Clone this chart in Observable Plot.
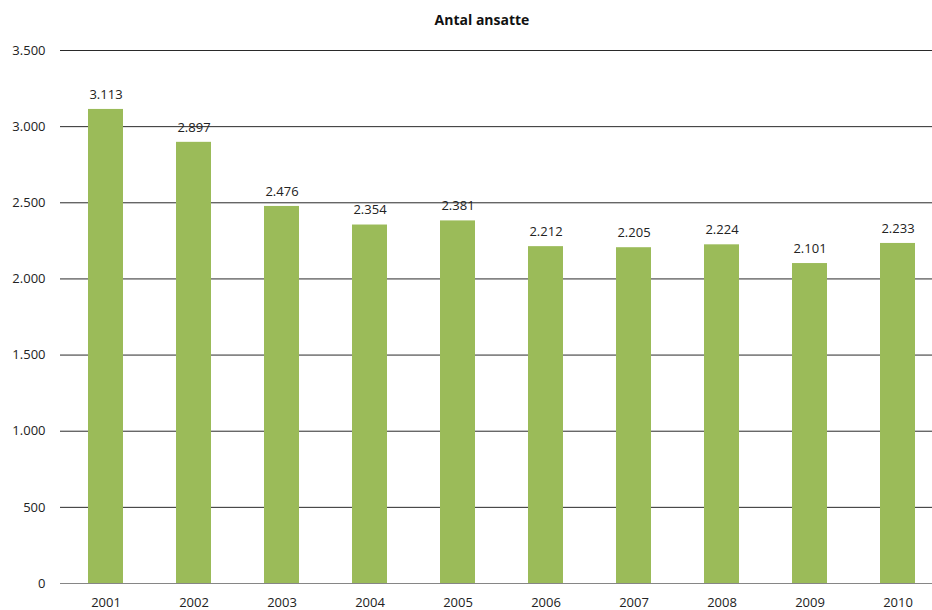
<!DOCTYPE html>
<html>
<head>
<meta charset="utf-8">
<script src="https://cdn.jsdelivr.net/npm/d3@7"></script>
<script src="https://cdn.jsdelivr.net/npm/@observablehq/plot@0.6"></script>
<style>
  body { margin: 0; background: #fff; font-family: "Open Sans", sans-serif; }
  #title { height: 40px; width: 932px; text-align: center; font-weight: bold; font-size: 14px; line-height: 40px; color: #111; padding-left: 32px; box-sizing: border-box; }
  #chart svg { display: block; }
</style>
</head>
<body>
<div id="title">Antal ansatte</div>
<div id="chart"></div>
<script>
const years = ["2001","2002","2003","2004","2005","2006","2007","2008","2009","2010"];
const employees = [3113, 2897, 2476, 2354, 2381, 2212, 2205, 2224, 2101, 2233];
const yTicks = [0, 500, 1000, 1500, 2000, 2500, 3000, 3500];

const data = years.map((y, i) => ({year: y, value: employees[i]}));
const fmt = v => d3.format(",")(v).replace(/,/g, ".");

const chart = Plot.plot({
  width: 932,
  height: 570,
  marginTop: 10,
  marginBottom: 27,
  marginLeft: 60,
  marginRight: 0,
  style: {fontFamily: "Open Sans, sans-serif", fontSize: "13px", color: "#222", background: "#fff"},
  x: {domain: years, range: [60, 943], paddingInner: 0.6, paddingOuter: 0.3, label: null},
  y: {domain: [0, 3500], label: null},
  marks: [
    Plot.ruleY(yTicks.filter(t => t > 0), {stroke: "#2a2a2a", strokeWidth: 1, strokeOpacity: 1}),
    Plot.barY(data, {x: "year", y: "value", fill: "#9bbb59"}),
    Plot.ruleY([0], {stroke: "#868686", strokeWidth: 1}),
    Plot.ruleX([0], {frameAnchor: "left", y1: 0, y2: 3500, stroke: "#868686"}),
    Plot.axisY({ticks: yTicks, tickFormat: fmt, tickSize: 0, tickPadding: 15, fontSize: 13, label: null}),
    Plot.axisX({tickSize: 0, tickPadding: 14, fontSize: 13, label: null}),
    Plot.text(data, {x: "year", y: "value", text: d => fmt(d.value), dy: -15, fontSize: 13, fill: "#222"})
  ]
});
document.getElementById("chart").appendChild(chart);
</script>
</body>
</html>
